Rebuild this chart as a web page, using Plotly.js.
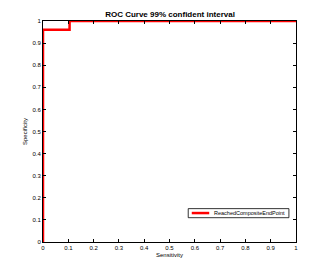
<!DOCTYPE html>
<html><head><meta charset="utf-8">
<script src="https://cdn.plot.ly/plotly-3.0.1.min.js"></script>
<style>html,body{margin:0;padding:0;background:#fff}#c{width:327px;height:273px}</style>
</head><body><div id="c"></div>
<script>
const seriesName = "ReachedCompositeEndPoint";
const fpr = [0, 0, 0.105, 0.105, 1];
const tpr = [0, 0.96, 0.96, 1, 1];
const tickVals = [0,0.1,0.2,0.3,0.4,0.5,0.6,0.7,0.8,0.9,1];
const tickText = ["0","0.1","0.2","0.3","0.4","0.5","0.6","0.7","0.8","0.9","1"];

const F = 'Liberation Sans, Arial, Helvetica';
const axisCommon = {
  range:[0,1], tickvals:tickVals, ticktext:tickText, ticks:'inside', ticklen:3,
  tickcolor:'#000', showline:true, linecolor:'#000', linewidth:1, mirror:'allticks',
  showgrid:false, zeroline:false, tickfont:{family:F, size:6, color:'#000'}
};
const trace = {x:fpr, y:tpr, type:'scatter', mode:'lines', name:seriesName,
  line:{color:'#ff0000', width:2.5}, cliponaxis:false, showlegend:false};
const layout = {
  width:327, height:273, margin:{l:42.5, r:31, t:20.5, b:31},
  paper_bgcolor:'#fff', plot_bgcolor:'#fff',
  title:{text:'<b>ROC Curve 99% confident interval</b>', x:0.52, xanchor:'center', y:0.948, yanchor:'middle',
    font:{family:F, size:8, color:'#000'}},
  xaxis:Object.assign({}, axisCommon, {title:{text:'Sensitivity', standoff:2, font:{family:F, size:6, color:'#000'}}}),
  yaxis:Object.assign({}, axisCommon, {title:{text:'Specificity', standoff:4, font:{family:F, size:6, color:'#000'}}}),
  showlegend:false,
  shapes:[
    {type:'rect', xref:'paper', yref:'paper', x0:0.574, x1:0.972, y0:0.110, y1:0.151,
      line:{color:'#000', width:0.8}, fillcolor:'#fff', layer:'above'},
    {type:'line', xref:'paper', yref:'paper', x0:0.588, x1:0.657, y0:0.131, y1:0.131,
      line:{color:'#ff0000', width:2.5}, layer:'above'}
  ],
  annotations:[
    {text:seriesName, xref:'paper', yref:'paper', x:0.667, y:0.131, xanchor:'left', yanchor:'middle',
      showarrow:false, font:{family:F, size:5.5, color:'#000'}}
  ]
};
Plotly.newPlot('c', [trace], layout, {staticPlot:true});
</script></body></html>
